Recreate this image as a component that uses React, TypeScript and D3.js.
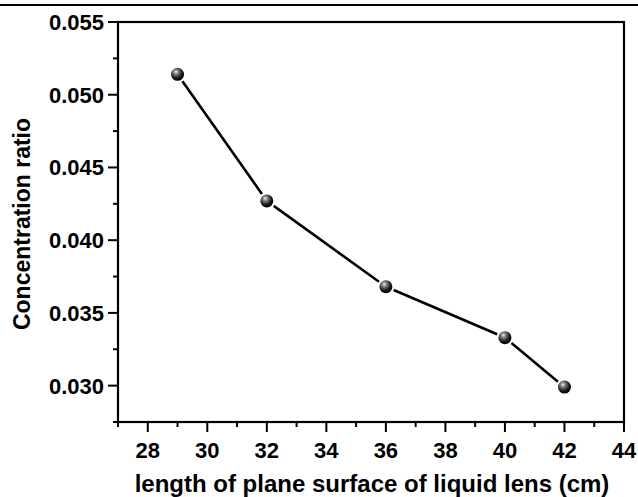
import React from "react";
import * as d3 from "d3";

const xValues = [29, 32, 36, 40, 42];
const yValues = [0.0514, 0.0427, 0.0368, 0.0333, 0.0299];
const xTicks = [28, 30, 32, 34, 36, 38, 40, 42, 44];
const xMinor = [27, 29, 31, 33, 35, 37, 39, 41, 43];
const yTicks = [0.03, 0.035, 0.04, 0.045, 0.05, 0.055];
const yMinor = [0.0275, 0.0325, 0.0375, 0.0425, 0.0475, 0.0525];
const xTitle = "length of plane surface of liquid lens (cm)";
const yTitle = "Concentration ratio";

const W = 638, H = 497;
const L = 118, R = 624, T = 22, B = 422;

export default function App() {
  const x = d3.scaleLinear().domain([27, 44]).range([L, R]);
  const y = d3.scaleLinear().domain([0.0275, 0.055]).range([B, T]);
  const pts = xValues.map((v, i) => [x(v), y(yValues[i])] as [number, number]);
  const r = 6.5;
  const gap = r + 2;
  const segs = pts.slice(1).map((p, i) => {
    const a = pts[i];
    const dx = p[0] - a[0], dy = p[1] - a[1];
    const len = Math.hypot(dx, dy);
    const ux = dx / len, uy = dy / len;
    return [a[0] + ux * gap, a[1] + uy * gap, p[0] - ux * gap, p[1] - uy * gap];
  });
  const font = "'Liberation Sans', Arial, sans-serif";
  return (
    <svg width={W} height={H} style={{ position: "absolute", left: 0, top: 0, display: "block", background: "#fff" }}>
      <defs>
        <radialGradient id="ball" cx="0.4" cy="0.35" r="0.65" fx="0.38" fy="0.3">
          <stop offset="0" stopColor="#f2f2f2" />
          <stop offset="0.25" stopColor="#8a8a8a" />
          <stop offset="0.7" stopColor="#1a1a1a" />
          <stop offset="1" stopColor="#000" />
        </radialGradient>
      </defs>
      <line x1={0} x2={W} y1={5} y2={5} stroke="#000" strokeWidth={2} />
      <rect x={L} y={T} width={R - L} height={B - T} fill="none" stroke="#000" strokeWidth={2.2} />
      {yTicks.map((t) => (
        <g key={"y" + t}>
          <line x1={L - 10} x2={L} y1={y(t)} y2={y(t)} stroke="#000" strokeWidth={2} />
          <text x={L - 14} y={y(t)} dy="0.36em" textAnchor="end" fontFamily={font} fontWeight="bold" fontSize={22}>
            {d3.format(".3f")(t)}
          </text>
        </g>
      ))}
      {yMinor.map((t) => (
        <line key={"ym" + t} x1={L - 5} x2={L} y1={y(t)} y2={y(t)} stroke="#000" strokeWidth={2} />
      ))}
      {xTicks.map((t) => (
        <g key={"x" + t}>
          <line x1={x(t)} x2={x(t)} y1={B} y2={B + 10} stroke="#000" strokeWidth={2} />
          <text x={x(t)} y={B + 36} textAnchor="middle" fontFamily={font} fontWeight="bold" fontSize={22}>
            {t}
          </text>
        </g>
      ))}
      {xMinor.map((t) => (
        <line key={"xm" + t} x1={x(t)} x2={x(t)} y1={B} y2={B + 5} stroke="#000" strokeWidth={2} />
      ))}
      {segs.map((s, i) => (
        <line key={"s" + i} x1={s[0]} y1={s[1]} x2={s[2]} y2={s[3]} stroke="#000" strokeWidth={2.6} />
      ))}
      {pts.map((p, i) => (
        <circle key={"p" + i} cx={p[0]} cy={p[1]} r={r} fill="url(#ball)" />
      ))}
      <text x={372} y={492} textAnchor="middle" fontFamily={font} fontWeight="bold" fontSize={24}>
        {xTitle}
      </text>
      <text transform={`translate(30,${(T + B) / 2 + 2}) rotate(-90)`} textAnchor="middle" fontFamily={font} fontWeight="bold" fontSize={23}>
        {yTitle}
      </text>
    </svg>
  );
}
